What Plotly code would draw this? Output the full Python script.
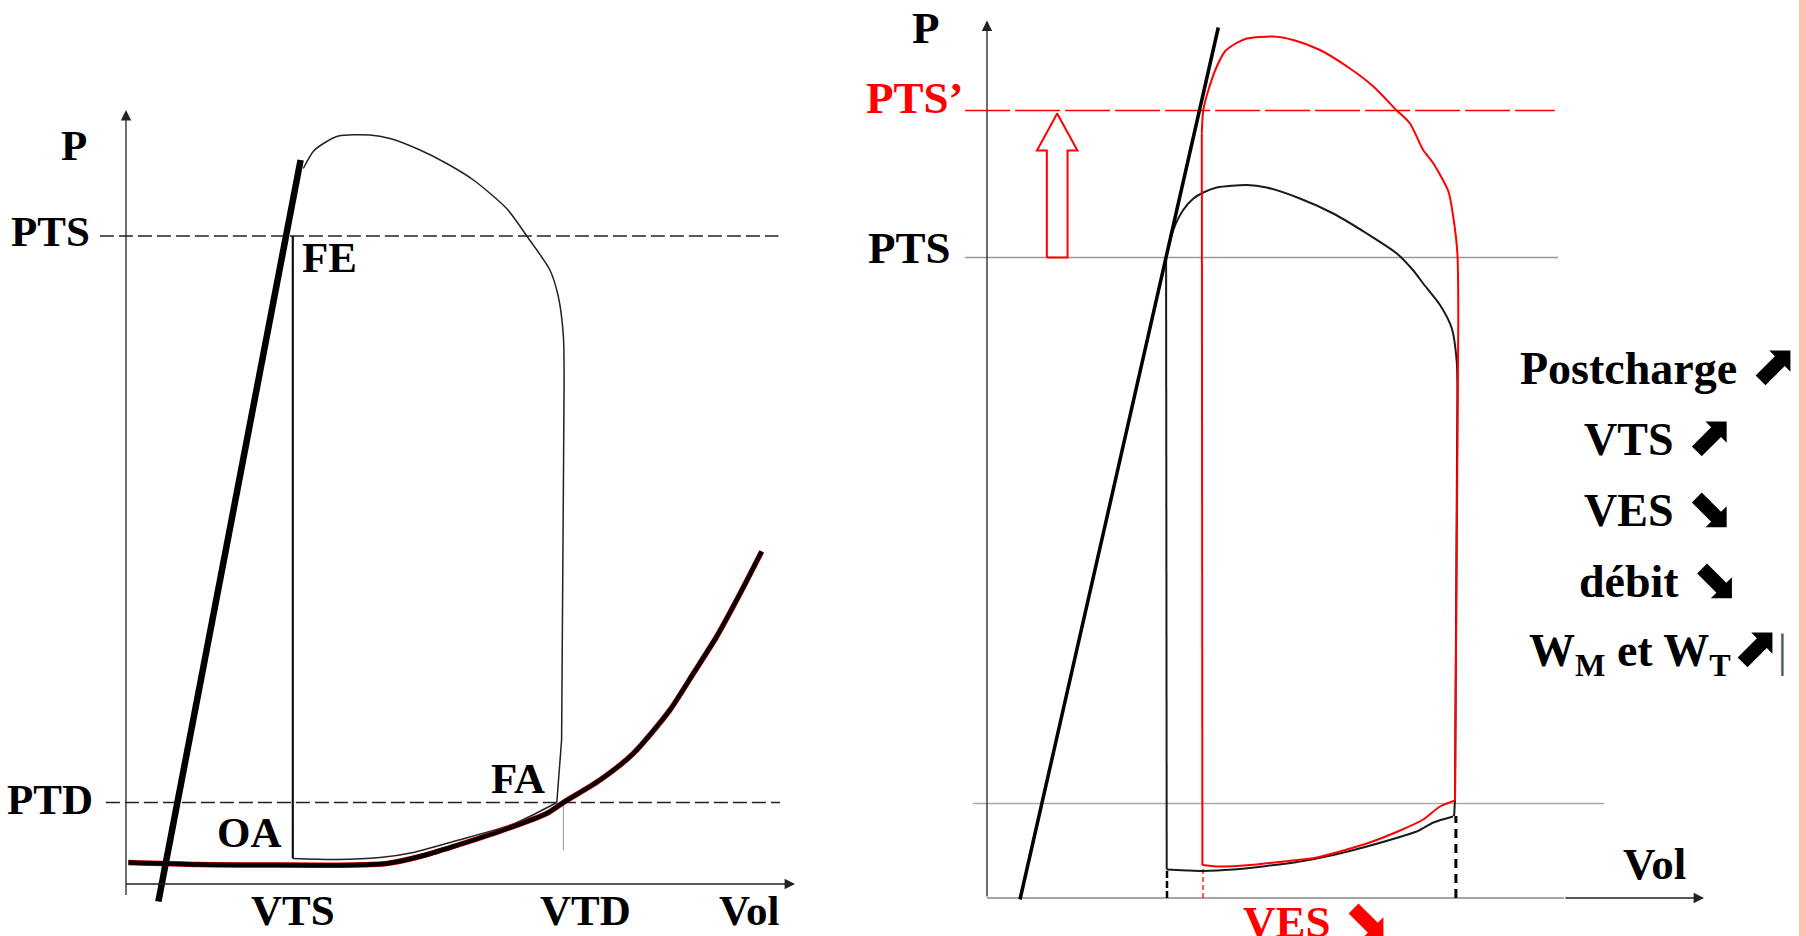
import plotly.graph_objects as go

# Left panel: volume (mL) / pressure (mmHg), read from the schematic
ESPVR_L_V = [10.8, 58.2]
ESPVR_L_P = [-3.5, 144.8]

EDPVR_L_V = [0.8, 24.7, 75.8, 86.9, 98.0, 109.1, 125.8, 140.2, 145.8, 158.0,
             169.1, 181.3, 189.1, 196.9, 204.7, 211.9]
EDPVR_L_P = [4.3, 3.9, 3.8, 4.1, 5.5, 7.5, 10.8, 14.1, 16.3, 20.8,
             26.1, 34.8, 42.1, 49.5, 58.1, 66.5]

EJECT_L_V = [146.0, 145.8, 144.1, 141.3, 133.6, 126.9, 115.8, 106.9, 98.0,
             88.0, 81.3, 70.8, 65.8, 62.4, 59.1]
EJECT_L_P = [96.8, 109.5, 117.5, 122.8, 129.6, 135.1, 140.8, 144.1, 146.8,
             149.1, 149.8, 149.6, 148.1, 146.5, 143.1]
CONTRACT_L_V = [143.6, 145.2, 146.0]
CONTRACT_L_P = [16.3, 28.8, 96.8]
FILL_L_V = [55.6, 70.2, 84.7, 95.8, 109.1, 129.1, 143.6]
FILL_L_P = [5.1, 4.9, 5.3, 6.3, 8.5, 12.0, 16.3]

VTS_L = 55.6
VTD_L = 145.8
PTS_L = 129.6
PTD_L = 16.3

# Right panel: baseline loop (black) and loop after afterload rise (red)
ESPVR_R_V = [11.0, 77.1]
ESPVR_R_P = [-0.3, 174.1]

EJECT_R_V = [59.7, 62.1, 65.4, 68.8, 72.1, 76.6, 86.6, 93.2, 104.3, 115.4,
             126.6, 136.6, 142.1, 145.4, 151.0, 154.9, 156.6, 156.8]
EJECT_R_P = [127.9, 133.6, 137.6, 139.9, 141.1, 142.1, 142.6, 142.1, 139.9, 136.9,
             132.9, 128.9, 125.5, 122.9, 118.6, 114.0, 107.1, 101.0]
CONTRACT_R_V = [156.8, 156.0, 155.7]
CONTRACT_R_P = [101.0, 19.6, 16.4]
FILL_R_V = [59.9, 66.6, 72.1, 82.1, 93.2, 104.3, 115.4, 126.6, 143.2, 148.8, 155.4]
FILL_R_P = [5.7, 5.5, 5.4, 5.7, 6.4, 7.3, 8.6, 10.3, 13.3, 15.1, 16.3]

EJECT_R2_V = [71.6, 72.1, 73.8, 76.6, 79.3, 82.1, 86.6, 95.4, 102.1, 111.0, 121.0,
              128.8, 136.6, 141.0, 145.4, 148.8, 153.8, 155.4, 156.8, 157.1]
EJECT_R2_P = [152.9, 157.6, 161.6, 166.3, 169.3, 170.6, 171.9, 172.3, 171.6, 169.6, 165.9,
              162.3, 157.5, 154.9, 149.6, 146.9, 141.3, 136.3, 128.9, 115.6]
CONTRACT_R2_V = [157.1, 156.0]
CONTRACT_R2_P = [115.6, 19.5]
FILL_R2_V = [156.0, 151.0, 145.4, 137.7, 126.6, 109.9, 98.8, 87.7, 76.6, 71.8]
FILL_R2_P = [19.5, 18.3, 15.7, 13.5, 10.9, 8.1, 7.3, 6.6, 6.3, 6.6]

VES_R = 60.0
VES_R2 = 72.0
VTD_R = 156.3
PTS_R = 128.1
PTS_R2 = 157.5
PTD_R = 18.9

UP = "<span style='font-family:DejaVu Sans;font-size:56px'>⬈</span>"
DOWN = "<span style='font-family:DejaVu Sans;font-size:56px'>⬊</span>"
EFFETS = [
    f"Postcharge {UP}",
    f"VTS {UP}",
    f"VES {DOWN}",
    f"débit {DOWN}",
    f"W<sub>M</sub> et W<sub>T</sub>{UP}<span style='font-weight:normal;color:#555'>|</span>",
]

FONT = "Liberation Serif, Times New Roman, serif"
RED = "#ff0000"

fig = go.Figure()


def add_line(xs, ys, color, width, dash="solid", shape="linear", panel=1):
    fig.add_trace(
        go.Scatter(
            x=xs, y=ys, mode="lines",
            line=dict(color=color, width=width, dash=dash, shape=shape, smoothing=0.7),
            xaxis="x" if panel == 1 else "x2",
            yaxis="y" if panel == 1 else "y2",
            hoverinfo="skip", showlegend=False,
        )
    )


def add_label(text, x, y, size, panel=1, color="black", xanchor="center"):
    fig.add_annotation(
        text=f"<b>{text}</b>", x=x, y=y,
        xref="x" if panel == 1 else "x2", yref="y" if panel == 1 else "y2",
        showarrow=False, xanchor=xanchor, yanchor="middle",
        font=dict(family=FONT, size=size, color=color),
    )


def add_axis_arrow(x0, y0, x1, y1, panel=1, color="#222"):
    xr = "x" if panel == 1 else "x2"
    yr = "y" if panel == 1 else "y2"
    fig.add_annotation(
        x=x1, y=y1, ax=x0, ay=y0, xref=xr, yref=yr, axref=xr, ayref=yr,
        text="", showarrow=True, arrowhead=2, arrowsize=1.6, arrowwidth=1.3,
        arrowcolor=color, standoff=0,
    )


# ---------- left panel ----------
add_line([-8.7, 217.5], [PTS_L, PTS_L], "#222", 1.3, dash="14px,5px")
add_line([-6.7, 218.0], [PTD_L, PTD_L], "#222", 1.3, dash="14px,5px")
add_line([VTD_L, VTD_L], [PTD_L, 6.8], "#999", 1.0)
add_axis_arrow(0, -2.5, 0, 154.8)
add_axis_arrow(-0.5, 0, 223, 0)

add_line(EJECT_L_V, EJECT_L_P, "#222", 1.5, shape="spline")
add_line(CONTRACT_L_V, CONTRACT_L_P, "#222", 1.5)
add_line([VTS_L, VTS_L], [PTS_L, FILL_L_P[0]], "#111", 2.2)
add_line(FILL_L_V, FILL_L_P, "#222", 1.5, shape="spline")

add_line(EDPVR_L_V, EDPVR_L_P, RED, 5.5, shape="spline")
add_line(EDPVR_L_V, EDPVR_L_P, "black", 4.5, shape="spline")
add_line(ESPVR_L_V, ESPVR_L_P, "black", 6.5)

add_label("P", -17.3, 147.8, 43)
add_label("PTS", -11.3, 130.5, 43, xanchor="right")
add_label("PTD", -10.3, 17.0, 43, xanchor="right")
add_label("FE", 58.0, 125.4, 43, xanchor="left")
add_label("OA", 41.3, 10.4, 43)
add_label("FA", 130.7, 21.2, 43)
add_label("VTS", VTS_L, -5.2, 43)
add_label("VTD", 153.2, -5.2, 43)
add_label("Vol", 207.7, -5.2, 43)

# ---------- right panel ----------
add_line([-7.3, 190.3], [PTS_R, PTS_R], "#999", 1.3, panel=2)
add_line([-4.7, 205.8], [PTD_R, PTD_R], "#aaa", 1.3, panel=2)
add_line([-7.3, 189.3], [PTS_R2, PTS_R2], RED, 1.3, dash="45px,5px", panel=2)
add_axis_arrow(0, 0, 0, 175.5, panel=2)
add_line([0, 192.3], [0, 0], "#888", 1.5, panel=2)
add_axis_arrow(192.3, 0, 239, 0, panel=2)

# hollow arrow PTS -> PTS'
ax_c, shaft, head, head_len = 23.4, 3.45, 6.75, 7.4
tip = PTS_R2 - 0.6
add_line(
    [ax_c - shaft, ax_c + shaft, ax_c + shaft, ax_c + head, ax_c, ax_c - head, ax_c - shaft, ax_c - shaft],
    [PTS_R, PTS_R, tip - head_len, tip - head_len, tip, tip - head_len, tip - head_len, PTS_R],
    RED, 2, panel=2,
)

add_line([VES_R, VES_R], [0, FILL_R_P[0]], "black", 2.5, dash="7px,3px", panel=2)
add_line([VES_R2, VES_R2], [0, FILL_R2_P[-1]], RED, 1.3, dash="5px,3px", panel=2)
add_line([VTD_R, VTD_R], [0, CONTRACT_R_P[-1]], "black", 3, dash="9px,6px", panel=2)

add_line(EJECT_R_V, EJECT_R_P, "#1a1a1a", 2, shape="spline", panel=2)
add_line(CONTRACT_R_V, CONTRACT_R_P, "#1a1a1a", 2, panel=2)
add_line([FILL_R_V[0], EJECT_R_V[0]], [FILL_R_P[0], EJECT_R_P[0]], "#1a1a1a", 2, panel=2)
add_line(FILL_R_V, FILL_R_P, "#1a1a1a", 2, shape="spline", panel=2)

add_line(EJECT_R2_V, EJECT_R2_P, RED, 2, shape="spline", panel=2)
add_line(CONTRACT_R2_V, CONTRACT_R2_P, RED, 2, panel=2)
add_line([FILL_R2_V[-1], EJECT_R2_V[0]], [FILL_R2_P[-1], EJECT_R2_P[0]], RED, 2, panel=2)
add_line(FILL_R2_V, FILL_R2_P, RED, 2, shape="spline", panel=2)

add_line(ESPVR_R_V, ESPVR_R_P, "black", 3.5, panel=2)

add_label("P", -20.3, 174.1, 45, panel=2)
add_label("PTS’", -24.1, 160.0, 45, panel=2, color=RED)
add_label("PTS", -25.9, 130.0, 45, panel=2)
add_label("Vol", 222.6, 6.8, 45, panel=2)
add_label(f"VES {DOWN}", 109.7, -3.9, 45, panel=2, color=RED)

for i, txt in enumerate(EFFETS):
    add_label(txt, 223.8, 106.7 - 14.2 * i, 46, panel=2)

fig.add_shape(type="rect", xref="paper", yref="paper", x0=1799 / 1806, x1=1, y0=0, y1=1,
              fillcolor="#f9c3ad", line_width=0, layer="below")

fig.update_layout(
    width=1806, height=936,
    margin=dict(l=0, r=0, t=0, b=0),
    paper_bgcolor="white", plot_bgcolor="white",
    showlegend=False,
    xaxis=dict(domain=[0, 0.5], range=[-42, 259], visible=False),
    yaxis=dict(domain=[0, 1], range=[-10.4, 176.8], visible=False),
    xaxis2=dict(domain=[0.5, 1], range=[-28, 273], visible=False),
    yaxis2=dict(domain=[0, 1], range=[-7.6, 179.6], visible=False),
)

fig.write_html(
    "out.html",
    config={"displayModeBar": False},
    post_script="document.body.style.margin='0';document.body.style.overflow='hidden';",
)
